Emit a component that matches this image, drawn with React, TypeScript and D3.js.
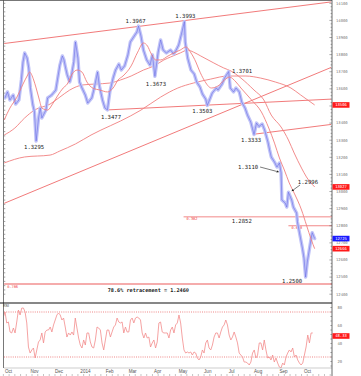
import React from "react";
import * as d3 from "d3";

// ---------- DATA ----------
const priceDates = [
  "2013-10-01","2013-10-04","2013-10-07","2013-10-11","2013-10-14","2013-10-18","2013-10-21","2013-10-23","2013-10-25","2013-10-28",
  "2013-10-30","2013-11-01","2013-11-04","2013-11-06","2013-11-08","2013-11-11","2013-11-13","2013-11-15","2013-11-20","2013-11-22",
  "2013-11-27","2013-12-02","2013-12-04","2013-12-07","2013-12-10","2013-12-12","2013-12-14","2013-12-16","2013-12-19","2013-12-21",
  "2013-12-24","2013-12-26","2013-12-29","2013-12-31","2014-01-03","2014-01-07","2014-01-10","2014-01-15","2014-01-18","2014-01-22",
  "2014-01-24","2014-01-28","2014-01-31","2014-02-03","2014-02-06","2014-02-10","2014-02-13","2014-02-17","2014-02-20","2014-02-24",
  "2014-02-28","2014-03-03","2014-03-07","2014-03-11","2014-03-13","2014-03-16","2014-03-19","2014-03-23","2014-03-27","2014-03-30",
  "2014-04-02","2014-04-06","2014-04-09","2014-04-12","2014-04-16","2014-04-21","2014-04-25","2014-04-28","2014-05-01","2014-05-05",
  "2014-05-08","2014-05-09","2014-05-12","2014-05-16","2014-05-20","2014-05-23","2014-05-27","2014-05-30","2014-06-03","2014-06-05",
  "2014-06-11","2014-06-16","2014-06-18","2014-06-23","2014-06-26","2014-07-01","2014-07-03","2014-07-07","2014-07-10","2014-07-14",
  "2014-07-17","2014-07-21","2014-07-24","2014-07-28","2014-07-30","2014-08-01","2014-08-04","2014-08-07","2014-08-11","2014-08-14",
  "2014-08-18","2014-08-20","2014-08-22","2014-08-26","2014-08-29","2014-09-01","2014-09-03","2014-09-04","2014-09-08","2014-09-10",
  "2014-09-12","2014-09-16","2014-09-18","2014-09-22","2014-09-23","2014-09-26","2014-09-29","2014-10-01","2014-10-03","2014-10-05",
  "2014-10-07","2014-10-09","2014-10-11","2014-10-14"
];
const priceValues = [
  1.3547,1.3582,1.3535,1.3564,1.3511,1.3535,1.3652,1.3757,1.3810,1.3780,
  1.3722,1.3605,1.3506,1.3465,1.3295,1.3430,1.3488,1.3430,1.3476,1.3547,
  1.3564,1.3593,1.3652,1.3739,1.3792,1.3769,1.3722,1.3681,1.3640,1.3675,
  1.3757,1.3874,1.3780,1.3640,1.3605,1.3564,1.3517,1.3547,1.3605,1.3698,
  1.3623,1.3535,1.3488,1.3477,1.3582,1.3663,1.3710,1.3745,1.3710,1.3734,
  1.3798,1.3874,1.3903,1.3932,1.3967,1.3909,1.3827,1.3769,1.3739,1.3798,
  1.3673,1.3815,1.3886,1.3827,1.3810,1.3827,1.3804,1.3827,1.3856,1.3932,
  1.3993,1.3874,1.3780,1.3710,1.3687,1.3640,1.3611,1.3570,1.3540,1.3503,
  1.3576,1.3605,1.3593,1.3628,1.3663,1.3701,1.3605,1.3582,1.3605,1.3582,
  1.3523,1.3488,1.3447,1.3406,1.3370,1.3333,1.3400,1.3380,1.3395,1.3359,
  1.3289,1.3243,1.3202,1.3172,1.3143,1.3167,1.3110,1.2950,1.2933,1.2909,
  1.2996,1.2950,1.2909,1.2874,1.2822,1.2746,1.2670,1.2611,1.2500,1.2588,
  1.2646,1.2705,1.2760,1.2725
];

const fastMaDates = [
  "2013-09-30","2013-10-07","2013-10-15","2013-10-23","2013-10-28","2013-10-31","2013-11-05","2013-11-08","2013-11-12","2013-11-15",
  "2013-11-22","2013-11-28","2013-12-04","2013-12-11","2013-12-16","2013-12-22","2013-12-28","2014-01-03","2014-01-09","2014-01-16",
  "2014-01-25","2014-02-03","2014-02-10","2014-02-16","2014-02-22","2014-03-04","2014-03-12","2014-03-19","2014-03-24","2014-03-28",
  "2014-04-03","2014-04-09","2014-04-18","2014-04-25","2014-05-03","2014-05-10","2014-05-16","2014-05-22","2014-05-26","2014-06-01",
  "2014-06-10","2014-06-18","2014-06-26","2014-07-02","2014-07-10","2014-07-16","2014-07-29","2014-08-10","2014-08-19","2014-08-26",
  "2014-09-01","2014-09-07","2014-09-13","2014-09-19","2014-09-28","2014-10-04","2014-10-10","2014-10-14"
];
const fastMaValues = [
  1.3418,1.3488,1.3547,1.3628,1.3675,1.3698,1.3652,1.3605,1.3535,1.3488,
  1.3476,1.3511,1.3558,1.3605,1.3628,1.3687,1.3710,1.3698,1.3640,1.3605,
  1.3593,1.3582,1.3605,1.3652,1.3675,1.3734,1.3815,1.3868,1.3850,1.3810,
  1.3769,1.3769,1.3792,1.3810,1.3827,1.3845,1.3810,1.3757,1.3710,1.3652,
  1.3605,1.3617,1.3652,1.3669,1.3640,1.3605,1.3535,1.3465,1.3371,1.3283,
  1.3196,1.3126,1.3050,1.2991,1.2892,1.2804,1.2717,1.2666
];

const midMaDates = [
  "2013-09-30","2013-10-13","2013-10-25","2013-11-06","2013-11-25","2013-12-07","2013-12-19","2014-01-04","2014-01-19","2014-02-06",
  "2014-02-19","2014-03-04","2014-03-19","2014-04-01","2014-04-13","2014-04-21","2014-05-03","2014-05-12","2014-05-19","2014-05-28",
  "2014-06-13","2014-06-25","2014-07-04","2014-07-16","2014-08-01","2014-08-13","2014-08-22","2014-09-03","2014-09-12","2014-09-19",
  "2014-09-28","2014-10-04","2014-10-14"
];
const midMaValues = [
  1.3330,1.3371,1.3430,1.3476,1.3511,1.3552,1.3593,1.3623,1.3628,1.3634,
  1.3652,1.3675,1.3710,1.3734,1.3769,1.3786,1.3810,1.3827,1.3815,1.3792,
  1.3751,1.3722,1.3704,1.3663,1.3593,1.3535,1.3447,1.3377,1.3301,1.3225,
  1.3137,1.3085,1.3027
];

const slowMaDates = [
  "2013-09-30","2013-10-25","2013-11-25","2013-12-07","2013-12-26","2014-01-14","2014-01-26","2014-02-19","2014-03-16","2014-04-09",
  "2014-04-30","2014-05-19","2014-06-09","2014-06-30","2014-07-22","2014-08-09","2014-08-27","2014-09-15","2014-09-27","2014-10-14"
];
const slowMaValues = [
  1.3167,1.3202,1.3213,1.3237,1.3278,1.3330,1.3359,1.3412,1.3476,1.3552,
  1.3605,1.3634,1.3657,1.3675,1.3675,1.3663,1.3640,1.3605,1.3564,1.3506
];

// RSI, one reading every ~2 days from rsiStart
const rsiStart = "2013-09-29";
const rsiStepHours = 49;
const rsiValues = [
  69.4,75.0,62.8,63.9,52.8,51.7,57.2,51.7,63.9,77.2,
  71.7,79.4,79.4,75.0,62.8,36.1,29.4,32.8,35.0,23.9,
  32.8,41.7,43.9,51.7,40.6,52.8,55.0,55.0,58.3,52.8,
  60.6,66.1,71.7,73.9,71.7,66.1,68.3,58.3,47.2,51.7,
  49.4,52.8,49.4,68.3,57.2,46.1,38.3,35.0,43.9,38.3,
  51.7,51.7,41.7,36.1,35.0,43.9,58.3,57.2,55.0,40.6,
  32.8,43.9,55.0,55.0,47.2,52.8,58.3,60.6,68.3,63.9,
  62.8,63.9,51.7,58.3,52.8,52.8,66.1,68.3,62.8,68.3,
  69.4,68.3,66.1,51.7,46.1,51.7,46.1,47.2,36.1,40.6,
  43.9,35.0,41.7,62.8,63.9,52.8,51.7,51.7,51.7,46.1,
  55.0,58.3,51.7,60.6,62.8,71.7,62.8,46.1,32.8,29.4,
  30.6,29.4,30.6,27.2,30.6,29.4,23.9,21.7,25.0,32.8,
  29.4,40.6,43.9,35.0,32.8,38.3,47.2,51.7,51.7,46.1,
  52.8,58.3,60.6,66.1,60.6,49.4,43.9,47.2,52.8,47.2,
  40.6,29.4,27.2,25.0,19.4,19.4,18.3,16.1,19.4,29.4,
  32.8,23.9,27.2,40.6,40.6,32.8,43.9,32.8,23.9,25.0,
  21.7,27.2,19.4,23.9,18.3,13.9,12.8,18.3,16.1,25.0,
  29.4,32.8,30.6,35.0,25.0,27.2,21.7,18.3,16.1,18.3,
  27.2,36.1,49.4,40.6,51.7,51.7
];
const rsiBandLevels = [75, 25];
const rsiTickValues = [80, 60, 40, 20];
const rsiLastLabel = "48.33";

// trend lines: [startDate, startValue, endDate, endValue]
const trendLines: [string, number, string, number][] = [
  ["2013-09-30", 1.3865, "2014-11-03", 1.4108],
  ["2013-09-30", 1.2931, "2014-11-03", 1.3725],
  ["2014-02-03", 1.3477, "2014-11-03", 1.3540],
  ["2014-08-01", 1.3335, "2014-11-03", 1.3392],
];

// fibonacci style horizontal levels
const fibStartDates = ["2014-05-07", "2014-09-12", "2013-09-30"];
const fibValues = [1.2852, 1.2800, 1.2460];
const fibTags = ["0.382", "0.618", "0.786"];

// annotated turning points
const annotationTexts = ["1.3295","1.3477","1.3967","1.3673","1.3993","1.3503","1.3701","1.3333","1.3110","1.2996","1.2500"];
const annotationDates = ["2013-11-08","2014-02-03","2014-03-13","2014-04-02","2014-05-08","2014-06-05","2014-07-01","2014-08-01","2014-09-03","2014-09-12","2014-10-03"];
const annotationValues = [1.3295,1.3477,1.3967,1.3673,1.3993,1.3503,1.3701,1.3333,1.3110,1.2996,1.2500];
const levelText = "1.2852";
const levelTextDate = "2014-07-17";
const retracementText = "78.6% retracement = 1.2460";
const retracementTextDate = "2014-03-25";

const priceTickValues = [1.41,1.40,1.39,1.38,1.37,1.36,1.35,1.34,1.33,1.32,1.31,1.30,1.29,1.28,1.27,1.26,1.25,1.24];
const markerLabels = ["13506", "13027", "12725", "12666"];
const markerValues = [1.3506, 1.3027, 1.2725, 1.2666];
const markerColors = ["#ff1a1a", "#ff1a1a", "#1a1aff", "#ff1a1a"];

// ---------- LAYOUT / STYLE ----------
const W = 361, H = 376;
const L = 4, R = 332, MAIN_B = 303, RSI_B = 368;
// label offsets (px) relative to annotated point: [dx, dy(baseline)]
const annOffsets: [number, number][] = [
  [-2, 8], [3.6, 9], [-3, -3], [1, 9.6], [1, -3.6], [-5, 7.6], [13.5, 1.5], [-3, 7.5], [-33, -3.7], [19.5, -8], [-13.5, 6],
];
// arrows: [index, x1, y1, x2, y2] offsets from the point
const annArrows: [number, number, number, number, number][] = [
  [8, -21, -5.7, -2.5, -0.8],
  [9, 11.6, -7.2, 3.4, -1.2],
];

export default function App() {
  const parse = d3.timeParse("%Y-%m-%d");
  const P = (s: string) => parse(s) as Date;

  const x = d3.scaleTime().domain([P("2013-10-01"), P("2014-10-01")]).range([5, 304]);
  const y = d3.scaleLinear().domain([1.24, 1.41]).range([294.2, 3.3]);
  const yr = d3.scaleLinear().domain([20, 80]).range([361.5, 307.5]);

  const pts = (dates: string[], vals: number[]) =>
    dates.map((d, i) => [x(P(d)), y(vals[i])] as [number, number]);
  const lin = d3.line<[number, number]>();
  const smooth = d3.line<[number, number]>().curve(d3.curveMonotoneX);

  const pricePath = lin(pts(priceDates, priceValues)) || "";
  const fastPath = smooth(pts(fastMaDates, fastMaValues)) || "";
  const midPath = smooth(pts(midMaDates, midMaValues)) || "";
  const slowPath = smooth(pts(slowMaDates, slowMaValues)) || "";

  const rsiPts = rsiValues.map((v, i) => [x(d3.timeHour.offset(P(rsiStart), i * rsiStepHours)), yr(v)] as [number, number]);
  const rsiPath = lin(rsiPts) || "";

  const months = d3.timeMonth.range(P("2013-10-01"), P("2014-10-02"));
  const weeks = d3.timeWeek.range(P("2013-09-29"), P("2014-11-05"));
  const minorPriceTicks = d3.range(1240, 1412, 2).map((v) => v / 1000);
  const leftTicks = d3.range(12400, 14101, 25).map((v) => v / 10000);
  const rsiMinor = d3.range(15, 86, 5);

  const markerYs = markerValues.map((v) => y(v));
  const redRed = "#ef6b6b";
  const maColor = "#f07f7f";
  const mono = "'DejaVu Sans Mono', monospace";
  const sans = "'Liberation Sans', Arial, sans-serif";

  return (
    <svg width={W} height={H} style={{ position: "absolute", left: 0, top: 0, background: "#fff" }} fontFamily={sans}>
      <defs>
        <clipPath id="mainClip"><rect x={L} y={0} width={R - L} height={MAIN_B} /></clipPath>
        <clipPath id="rsiClip"><rect x={L} y={MAIN_B} width={R - L} height={RSI_B - MAIN_B} /></clipPath>
        <marker id="arr" viewBox="0 0 6 6" refX="5" refY="3" markerWidth="4" markerHeight="4" orient="auto">
          <path d="M0,0 L6,3 L0,6 z" fill="#222" />
        </marker>
      </defs>
      <rect x={0} y={0} width={W} height={H} fill="#fff" />

      {/* frame */}
      <line x1={0} x2={R} y1={0.5} y2={0.5} stroke="#777" strokeWidth={1} />
      <line x1={L - 0.5} x2={L - 0.5} y1={0} y2={RSI_B} stroke="#555" strokeWidth={0.8} />
      {leftTicks.map((t, i) => (
        <line key={"lt" + i} x1={L} x2={L + 1.3} y1={y(t)} y2={y(t)} stroke="#666" strokeWidth={0.6} />
      ))}

      {/* main panel */}
      <g clipPath="url(#mainClip)">
        {trendLines.map((t, i) => (
          <line key={"tl" + i} x1={x(P(t[0]))} y1={y(t[1])} x2={x(P(t[2]))} y2={y(t[3])} stroke={redRed} strokeWidth={0.9} />
        ))}
        {fibValues.map((v, i) => (
          <g key={"fib" + i}>
            <line x1={Math.max(L, x(P(fibStartDates[i])))} x2={R} y1={y(v)} y2={y(v)} stroke={i === 2 ? "#f29090" : redRed} strokeWidth={i === 2 ? 1.5 : 0.8} />
            <text x={Math.max(L, x(P(fibStartDates[i]))) + 3} y={y(v) + 3.6} fontSize={3.6} fill="#e33" fontFamily={mono}>{fibTags[i]}</text>
          </g>
        ))}
        <path d={slowPath} fill="none" stroke={maColor} strokeWidth={0.9} />
        <path d={midPath} fill="none" stroke={maColor} strokeWidth={0.9} />
        <path d={pricePath} fill="none" stroke="#c0c3f7" strokeWidth={3.4} strokeLinejoin="round" strokeLinecap="round" />
        <path d={pricePath} fill="none" stroke="#5a5fe2" strokeWidth={0.5} strokeLinejoin="round" />
        <path d={fastPath} fill="none" stroke={maColor} strokeWidth={0.9} />
      </g>

      {/* annotations */}
      {annotationTexts.map((t, i) => {
        const px = x(P(annotationDates[i]));
        const py = y(annotationValues[i]);
        return (
          <text key={"an" + i} x={px + annOffsets[i][0]} y={py + annOffsets[i][1]} fontSize={5.6} fill="#1a1a1a" textAnchor="middle" fontFamily={mono}>{t}</text>
        );
      })}
      {annArrows.map((a, k) => {
        const i = a[0];
        const px = x(P(annotationDates[i]));
        const py = y(annotationValues[i]);
        return (
          <line key={"ar" + k} x1={px + a[1]} y1={py + a[2]} x2={px + a[3]} y2={py + a[4]} stroke="#222" strokeWidth={0.6} markerEnd="url(#arr)" />
        );
      })}
      <text x={x(P(levelTextDate))} y={y(fibValues[0]) + 6.2} fontSize={5.6} fill="#1a1a1a" textAnchor="middle" fontFamily={mono}>{levelText}</text>
      <text x={x(P(retracementTextDate))} y={y(fibValues[2]) + 7.8} fontSize={5.2} fontWeight="bold" fill="#1a1a1a" textAnchor="middle" fontFamily={mono}>{retracementText}</text>

      {/* panel separator */}
      <line x1={0} x2={R} y1={MAIN_B} y2={MAIN_B} stroke="#111" strokeWidth={1.2} />

      {/* RSI panel */}
      <text x={3} y={307} fontSize={3.6} fill="#333">RSI</text>
      {rsiBandLevels.map((v, i) => (
        <line key={"rb" + i} x1={L} x2={R} y1={yr(v)} y2={yr(v)} stroke="#e85555" strokeWidth={0.7} strokeDasharray="1 1.2" />
      ))}
      <g clipPath="url(#rsiClip)">
        <path d={rsiPath} fill="none" stroke="#f28c8c" strokeWidth={0.8} strokeLinejoin="round" />
      </g>
      <line x1={L} x2={R} y1={RSI_B} y2={RSI_B} stroke="#999" strokeWidth={0.5} />

      {/* right axis */}
      <line x1={R} x2={R} y1={0} y2={H} stroke="#444" strokeWidth={0.8} />
      {minorPriceTicks.map((t, i) => (
        <line key={"mt" + i} x1={R - (Math.round(t * 1000) % 10 === 0 ? 2.6 : 1.4)} x2={R} y1={y(t)} y2={y(t)} stroke="#555" strokeWidth={0.5} />
      ))}
      {priceTickValues.map((t, i) => {
        const ty = y(t);
        if (markerYs.some((m) => Math.abs(m - ty) < 4.2)) return null;
        return (
          <text key={"pt" + i} x={336} y={ty + 1.4} fontSize={3.9} fill="#777" fontFamily={mono}>{Math.round(t * 10000)}</text>
        );
      })}
      {rsiMinor.map((t, i) => (
        <line key={"rm" + i} x1={R - 1.6} x2={R} y1={yr(t)} y2={yr(t)} stroke="#555" strokeWidth={0.5} />
      ))}
      {rsiTickValues.map((t, i) => (
        <text key={"rt" + i} x={337.5} y={yr(t) + 1.4} fontSize={3.9} fill="#777" fontFamily={mono}>{t}</text>
      ))}
      {markerLabels.map((m, i) => (
        <g key={"mk" + i}>
          <rect x={332.5} y={markerYs[i] - 2.8} width={17} height={5.6} fill={markerColors[i]} />
          <text x={341} y={markerYs[i] + 1.4} fontSize={3.9} fill="#fff" textAnchor="middle" fontFamily={mono}>{m}</text>
        </g>
      ))}
      <rect x={332.5} y={yr(+rsiLastLabel) - 2.8} width={17} height={5.6} fill="#ff1a1a" />
      <text x={341} y={yr(+rsiLastLabel) + 1.4} fontSize={3.9} fill="#fff" textAnchor="middle" fontFamily={mono}>{rsiLastLabel}</text>

      {/* x axis */}
      {weeks.map((w, i) => (
        <line key={"wk" + i} x1={x(w)} x2={x(w)} y1={374} y2={376} stroke="#888" strokeWidth={0.5} />
      ))}
      {months.map((m, i) => (
        <text key={"mo" + i} x={x(m)} y={372.8} fontSize={4.6} fill="#555">
          {m.getMonth() === 0 ? d3.timeFormat("%Y")(m) : d3.timeFormat("%b")(m)}
        </text>
      ))}
    </svg>
  );
}
